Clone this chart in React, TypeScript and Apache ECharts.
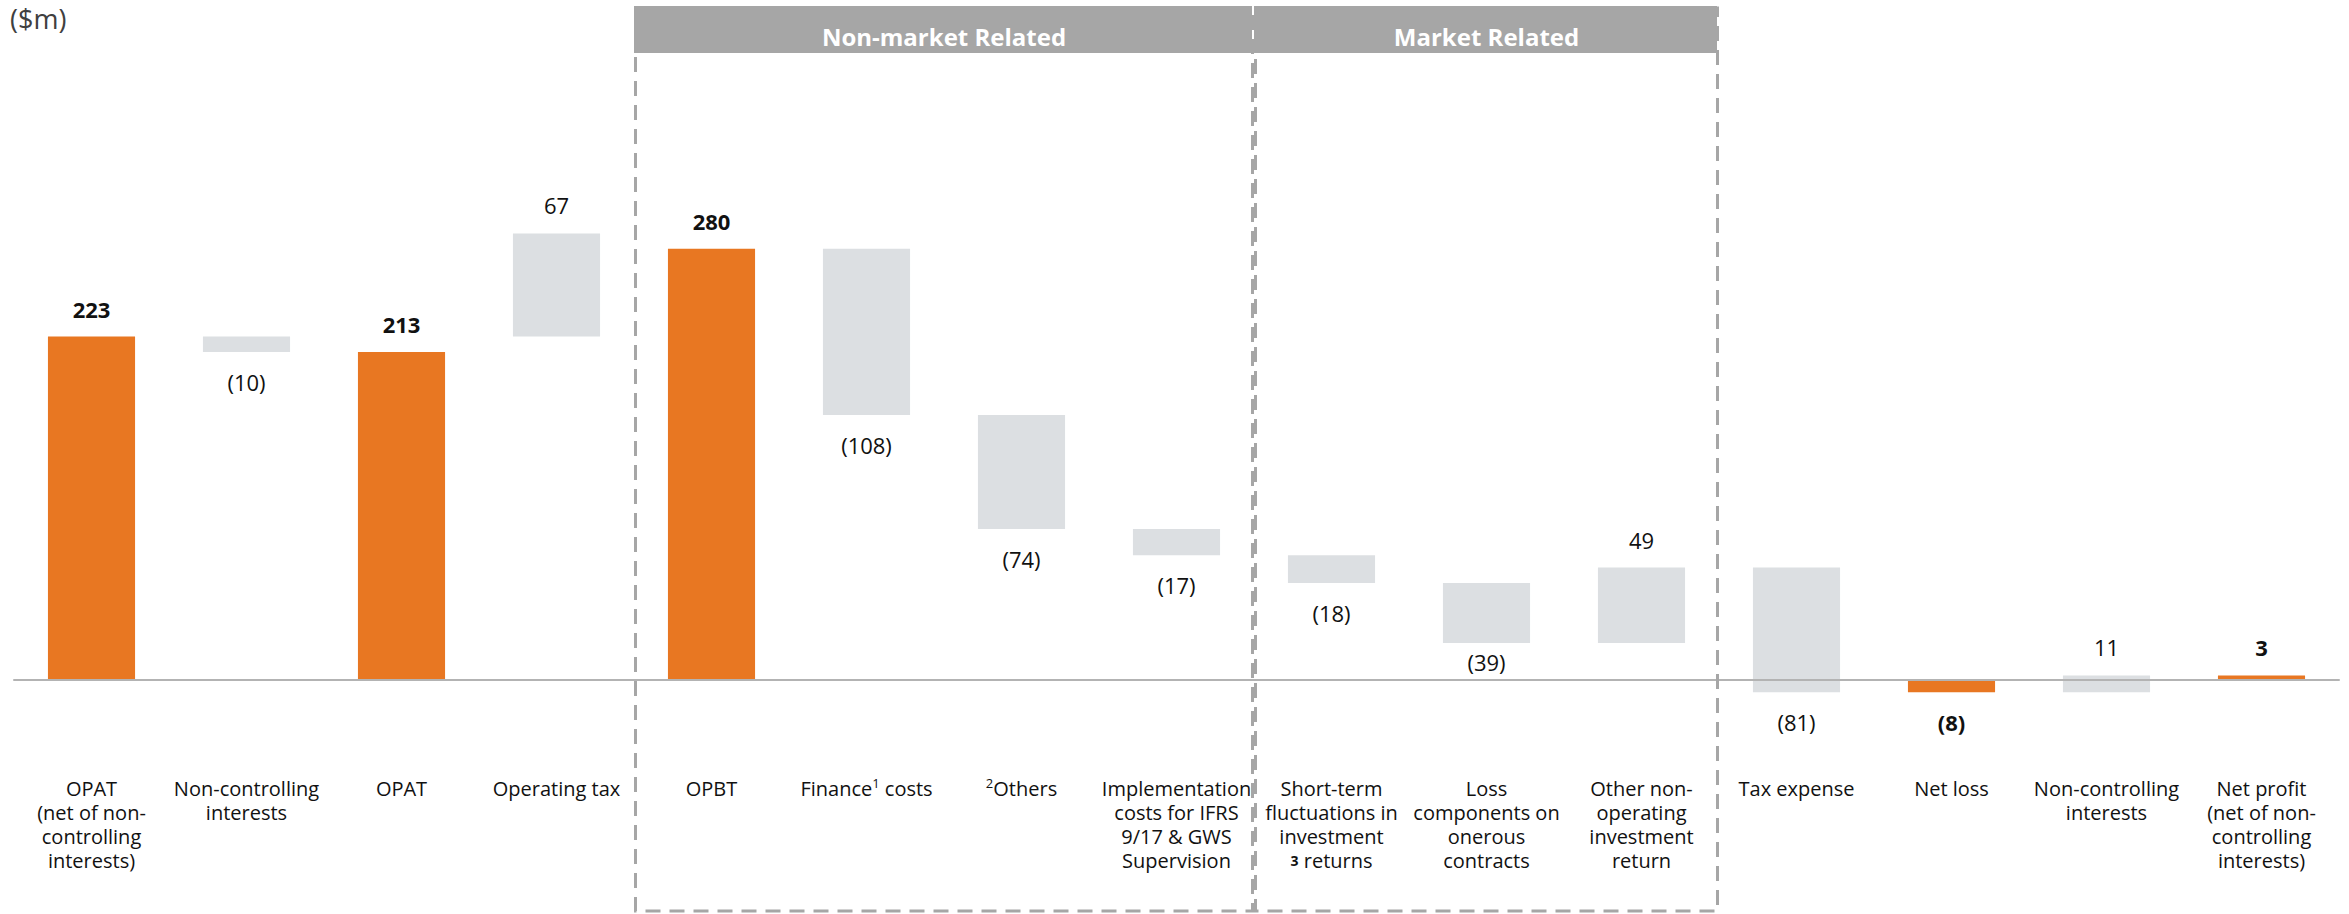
import React, { useEffect, useRef } from "react";
import * as echarts from "echarts";

// ---------- data ----------
const categories = [
  "OPAT\n(net of non-\ncontrolling\ninterests)",
  "Non-controlling\ninterests",
  "OPAT",
  "Operating tax",
  "OPBT",
  "Finance costs",
  "Others",
  "Implementation\ncosts for IFRS\n9/17 & GWS\nSupervision",
  "Short-term\nfluctuations in\ninvestment\nreturns",
  "Loss\ncomponents on\nonerous\ncontracts",
  "Other non-\noperating\ninvestment\nreturn",
  "Tax expense",
  "Net loss",
  "Non-controlling\ninterests",
  "Net profit\n(net of non-\ncontrolling\ninterests)",
];
// where each step starts ($m)
const stepStarts = [0, 223, 0, 223, 0, 280, 172, 98, 81, 63, 24, 73, 0, -8, 0];
// size of each step ($m)
const stepDeltas = [223, -10, 213, 67, 280, -108, -74, -17, -18, -39, 49, -81, -8, 11, 3];
// totals (orange) vs movements (grey)
const isTotal = [true, false, true, false, true, false, false, false, false, false, false, false, true, false, true];
// bracket groups
const groupNames = ["Non-market Related", "Market Related"];
const groupFrom = [4, 8];
const groupTo = [7, 10];
const unitLabel = "($m)";

const ORANGE = "#E87722";
const GREY = "#DCDFE2";
const HEADER = "#A6A6A6";
const FONT = "'Open Sans', Lato, sans-serif";

const fmt = (v: number) => (v < 0 ? `(${Math.abs(v)})` : `${v}`);

const labelMarkup: Record<number, string> = {
  5: "Finance{sup|1} costs",
  6: "{sup|2}Others",
  8: "Short-term\nfluctuations in\ninvestment\n{fn|3} returns",
};

export default function App() {
  const ref = useRef<HTMLDivElement>(null);
  useEffect(() => {
    document.body.style.margin = "0";
    const chart = echarts.init(ref.current!, null, { renderer: "svg" });
    const data = stepDeltas.map((d, i) => {
      const s = stepStarts[i];
      const e = s + d;
      return [i, Math.min(s, e), Math.max(s, e)];
    });
    chart.setOption({
      animation: false,
      grid: { left: 14, right: 10, top: 64, bottom: 203.2 },
      xAxis: {
        type: "category",
        data: categories,
        z: 5,
        axisLine: { onZero: true, lineStyle: { color: "#B3B3B3", width: 2 } },
        axisTick: { show: false },
        axisLabel: {
          interval: 0,
          margin: 66,
          fontFamily: FONT,
          fontSize: 20,
          lineHeight: 24,
          color: "#111",
          align: "center",
          verticalAlign: "top",
          formatter: (v: string, idx: number) => labelMarkup[idx] ?? v,
          rich: {
            sup: { fontSize: 13, fontFamily: FONT, color: "#111", verticalAlign: "top", lineHeight: 24 },
            fn: { fontSize: 14, fontWeight: "bold", fontFamily: FONT, color: "#111", lineHeight: 24 },
          },
        },
        splitLine: { show: false },
      },
      yAxis: {
        type: "value",
        min: -20,
        max: 400,
        show: false,
        splitLine: { show: false },
      },
      series: [
        {
          type: "custom",
          data,
          z: 2,
          renderItem: (params: any, api: any) => {
            const i = api.value(0);
            const lo = api.value(1);
            const hi = api.value(2);
            const pTop = api.coord([i, hi]);
            const pBot = api.coord([i, lo]);
            const zeroY = api.coord([i, 0])[1];
            const w = api.size([1, 0])[0] * 0.562;
            const idx = params.dataIndex;
            const d = stepDeltas[idx];
            const total = isTotal[idx];
            const above = d >= 0;
            let ly = above ? pTop[1] - 28 : pBot[1] + 30;
            if (!above && lo > 0 && ly > zeroY - 18) ly = zeroY - 18;
            return {
              type: "group",
              children: [
                {
                  type: "rect",
                  shape: { x: pTop[0] - w / 2, y: pTop[1], width: w, height: Math.max(pBot[1] - pTop[1], 1) },
                  style: { fill: total ? ORANGE : GREY },
                },
                {
                  type: "text",
                  x: pTop[0],
                  y: ly,
                  style: {
                    text: fmt(d),
                    fill: "#111",
                    fontFamily: FONT,
                    fontSize: 22,
                    fontWeight: total ? "bold" : "normal",
                    align: "center",
                    verticalAlign: "middle",
                  },
                },
              ],
            };
          },
        },
      ],
    });

    const cx = (i: number) => chart.convertToPixel({ xAxisIndex: 0 }, i) as number;
    const band = cx(1) - cx(0);
    const edge = (i: number) => cx(i) - band / 2;
    const graphics: any[] = [
      {
        type: "text",
        x: 10,
        y: 18,
        style: {
          text: unitLabel,
          fill: "#404040",
          fontFamily: FONT,
          fontSize: 27,
          lineHeight: 28,
          align: "left",
          verticalAlign: "middle",
        },
      },
    ];
    groupNames.forEach((name, g) => {
      const x0 = edge(groupFrom[g]);
      const x1 = edge(groupTo[g] + 1);
      graphics.push({
        type: "rect",
        z: 10,
        shape: { x: x0 + 1.5, y: 8, width: x1 - x0 - 3, height: 903 },
        style: { fill: "none", stroke: HEADER, lineWidth: 3, lineDash: [15, 9] },
      });
      graphics.push({
        type: "rect",
        z: 11,
        shape: { x: x0, y: 6, width: x1 - x0 - 2, height: 47 },
        style: { fill: HEADER },
      });
      graphics.push({
        type: "text",
        z: 12,
        x: (x0 + x1) / 2,
        y: 36,
        style: {
          text: name,
          fill: "#fff",
          fontFamily: FONT,
          fontSize: 24,
          fontWeight: "bold",
          align: "center",
          verticalAlign: "middle",
        },
      });
    });
    chart.setOption({ graphic: graphics });
    return () => chart.dispose();
  }, []);
  return <div ref={ref} style={{ position: "absolute", left: 0, top: 0, width: 2349, height: 914 }} />;
}
